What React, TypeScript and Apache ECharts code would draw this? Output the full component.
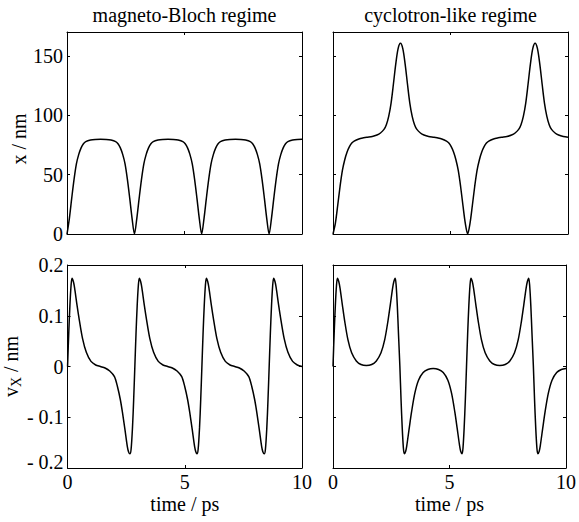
import React, { useEffect, useRef } from 'react';
import * as echarts from 'echarts';

const FONT = 'Liberation Serif, Times New Roman, Times, serif';

const panelTitles = ['magneto-Bloch regime', 'cyclotron-like regime'];
const timeName = 'time / ps';
const posName = 'x / nm';
const velName = '{a|v}{s|X}{a| / nm}';

const timeRange = [0, 10];
const timeStep = 5;
const posRange = [0, 170];
const posStep = 50;
const velRange = [-0.2, 0.2];
const velStep = 0.1;

// magneto-Bloch regime: position x (nm)
const blochPosT = [
  0, 0.1, 0.2, 0.3, 0.4, 0.5, 0.6, 0.7, 0.8, 1.0, 1.2, 1.43, 1.67, 1.87, 2.07, 2.17, 2.27, 2.37, 2.47, 2.57, 2.67, 2.77, 2.87,
  2.97, 3.07, 3.17, 3.27, 3.37, 3.47, 3.57, 3.67, 3.87, 4.07, 4.3, 4.53, 4.73, 4.93, 5.03, 5.13, 5.23, 5.33, 5.43, 5.53, 5.63, 5.73,
  5.83, 5.93, 6.03, 6.13, 6.23, 6.33, 6.43, 6.53, 6.73, 6.93, 7.17, 7.4, 7.6, 7.8, 7.9, 8.0, 8.1, 8.2, 8.3, 8.4, 8.5, 8.6,
  8.7, 8.8, 8.9, 9.0, 9.1, 9.2, 9.3, 9.4, 9.6, 9.8, 10,
];
const blochPos = [
  0, 13, 30, 46, 59, 67, 72.5, 76, 77.8, 79.1, 79.6, 79.7, 79.6, 79.1, 77.8, 76, 72.5, 67, 59, 46, 30, 13, 0,
  13, 30, 46, 59, 67, 72.5, 76, 77.8, 79.1, 79.6, 79.7, 79.6, 79.1, 77.8, 76, 72.5, 67, 59, 46, 30, 13, 0,
  13, 30, 46, 59, 67, 72.5, 76, 77.8, 79.1, 79.6, 79.7, 79.6, 79.1, 77.8, 76, 72.5, 67, 59, 46, 30, 13, 0,
  13, 30, 46, 59, 67, 72.5, 76, 77.8, 79.1, 79.6, 79.7,
];

// cyclotron-like regime: position x (nm)
const cycloPosT = [
  0, 0.1, 0.2, 0.3, 0.4, 0.5, 0.6, 0.7, 0.8, 0.9, 1.1, 1.3, 1.435,
  1.67, 1.87, 2.02, 2.17, 2.27, 2.37, 2.47, 2.57, 2.67, 2.77, 2.87,
  2.97, 3.07, 3.17, 3.27, 3.37, 3.47, 3.57, 3.72, 3.87, 4.07, 4.3,
  4.43, 4.63, 4.83, 4.93, 5.03, 5.13, 5.23, 5.33, 5.43, 5.53, 5.63, 5.73,
  5.83, 5.93, 6.03, 6.13, 6.23, 6.33, 6.43, 6.53, 6.63, 6.83, 7.03, 7.17,
  7.4, 7.6, 7.75, 7.9, 8.0, 8.1, 8.2, 8.3, 8.4, 8.5, 8.6,
  8.7, 8.8, 8.9, 9.0, 9.1, 9.2, 9.3, 9.45, 9.6, 9.8, 10,
];
const cycloPos = [
  0, 9, 24, 40, 53.5, 62.5, 69, 73.5, 76.5, 78.2, 80, 81, 81.5,
  82.1, 83.3, 85, 88, 92, 99, 110, 126, 143, 156, 160.5,
  156, 143, 126, 110, 99, 92, 88, 85, 83.3, 82.1, 81.5,
  81, 80, 78.2, 76.5, 73.5, 69, 62.5, 53.5, 40, 24, 9, 0,
  9, 24, 40, 53.5, 62.5, 69, 73.5, 76.5, 78.2, 80, 81, 81.5,
  82.1, 83.3, 85, 88, 92, 99, 110, 126, 143, 156, 160.5,
  156, 143, 126, 110, 99, 92, 88, 85, 83.3, 82.1, 81.5,
];

// magneto-Bloch regime: velocity v_x
const blochVelT = [
  0, 0.05, 0.1, 0.15, 0.19, 0.25, 0.3, 0.4, 0.5, 0.64, 0.8, 1.0, 1.2, 1.4, 1.6, 1.8, 2.0, 2.13, 2.25, 2.34, 2.45, 2.55, 2.6, 2.66, 2.71, 2.77, 2.82,
  2.87, 2.92, 2.97, 3.02, 3.06, 3.12, 3.17, 3.27, 3.37, 3.51, 3.67, 3.87, 4.07, 4.27, 4.47, 4.67, 4.87, 5.0, 5.12, 5.21, 5.32, 5.42, 5.47, 5.52, 5.57, 5.63, 5.68,
  5.73, 5.78, 5.83, 5.88, 5.92, 5.98, 6.03, 6.13, 6.23, 6.37, 6.53, 6.73, 6.93, 7.13, 7.33, 7.53, 7.73, 7.86, 7.98, 8.07, 8.18, 8.28, 8.33, 8.39, 8.44, 8.5, 8.55,
  8.6, 8.65, 8.7, 8.75, 8.79, 8.85, 8.9, 9.0, 9.1, 9.24, 9.4, 9.6, 9.8, 10,
];
const blochVel = [
  0, 0.065, 0.12, 0.16, 0.174, 0.167, 0.155, 0.122, 0.092, 0.055, 0.028, 0.01, 0.003, 0, -0.003, -0.009, -0.02, -0.04, -0.065, -0.09, -0.125, -0.158, -0.168, -0.172, -0.163, -0.12, -0.065,
  0, 0.065, 0.12, 0.16, 0.174, 0.167, 0.155, 0.122, 0.092, 0.055, 0.028, 0.01, 0.003, 0, -0.003, -0.009, -0.02, -0.04, -0.065, -0.09, -0.125, -0.158, -0.168, -0.172, -0.163, -0.12, -0.065,
  0, 0.065, 0.12, 0.16, 0.174, 0.167, 0.155, 0.122, 0.092, 0.055, 0.028, 0.01, 0.003, 0, -0.003, -0.009, -0.02, -0.04, -0.065, -0.09, -0.125, -0.158, -0.168, -0.172, -0.163, -0.12, -0.065,
  0, 0.065, 0.12, 0.16, 0.174, 0.167, 0.155, 0.122, 0.092, 0.055, 0.028, 0.01, 0.003, 0,
];

// cyclotron-like regime: velocity v_x
const cycloVelT = [
  0, 0.05, 0.1, 0.15, 0.19, 0.25, 0.3, 0.4, 0.5, 0.64, 0.8, 1.0, 1.2, 1.43, 1.66, 1.86, 2.06, 2.22, 2.36, 2.46, 2.56, 2.61, 2.67, 2.71, 2.76, 2.81,
  2.87, 2.92, 2.97, 3.02, 3.06, 3.12, 3.17, 3.27, 3.37, 3.51, 3.67, 3.87, 4.07, 4.3, 4.53, 4.73, 4.93, 5.09, 5.23, 5.33, 5.43, 5.48, 5.54, 5.58, 5.63, 5.68,
  5.73, 5.78, 5.83, 5.88, 5.92, 5.98, 6.03, 6.13, 6.23, 6.37, 6.53, 6.73, 6.93, 7.16, 7.39, 7.59, 7.79, 7.95, 8.09, 8.19, 8.29, 8.34, 8.4, 8.44, 8.49, 8.54,
  8.6, 8.65, 8.7, 8.75, 8.79, 8.85, 8.9, 9.0, 9.1, 9.24, 9.4, 9.6, 9.8, 10,
];
const cycloVel = [
  0, 0.065, 0.12, 0.16, 0.174, 0.167, 0.155, 0.122, 0.09, 0.053, 0.027, 0.011, 0.004, 0.002, 0.004, 0.011, 0.027, 0.053, 0.09, 0.122, 0.155, 0.167, 0.174, 0.16, 0.12, 0.065,
  0, -0.065, -0.12, -0.16, -0.172, -0.167, -0.155, -0.122, -0.09, -0.053, -0.027, -0.012, -0.006, -0.004, -0.006, -0.012, -0.027, -0.053, -0.09, -0.122, -0.155, -0.167, -0.172, -0.16, -0.12, -0.065,
  0, 0.065, 0.12, 0.16, 0.174, 0.167, 0.155, 0.122, 0.09, 0.053, 0.027, 0.011, 0.004, 0.002, 0.004, 0.011, 0.027, 0.053, 0.09, 0.122, 0.155, 0.167, 0.174, 0.16, 0.12, 0.065,
  0, -0.065, -0.12, -0.16, -0.172, -0.167, -0.155, -0.122, -0.09, -0.053, -0.027, -0.012, -0.006, -0.004,
];

const zip = (t: number[], v: number[]) => t.map((x, i) => [x, v[i]]);

const textBase = { fontFamily: FONT, fontSize: 20, color: '#000', fontWeight: 'normal' };

function xAxisDef(gridIndex: number, position: string, showLabels: boolean, name: string) {
  return {
    type: 'value',
    gridIndex,
    position,
    min: timeRange[0],
    max: timeRange[1],
    interval: timeStep,
    axisLine: { show: true, onZero: false, lineStyle: { color: '#000', width: 1 } },
    axisTick: { show: true, inside: true, length: 3, lineStyle: { color: '#000', width: 1 } },
    axisLabel: { show: showLabels, ...textBase, margin: 4 },
    splitLine: { show: false },
    name,
    nameLocation: 'middle',
    nameGap: 26,
    nameTextStyle: { ...textBase },
  };
}

function yAxisDef(gridIndex: number, position: string, kind: 'pos' | 'vel', showLabels: boolean, withName: boolean) {
  const isPos = kind === 'pos';
  const range = isPos ? posRange : velRange;
  return {
    type: 'value',
    gridIndex,
    position,
    min: range[0],
    max: range[1],
    interval: isPos ? posStep : velStep,
    axisLine: { show: true, onZero: false, lineStyle: { color: '#000', width: 1 } },
    axisTick: { show: true, inside: true, length: 3, lineStyle: { color: '#000', width: 1 } },
    axisLabel: {
      show: showLabels,
      ...textBase,
      margin: 4,
      formatter: (v: number) => {
        if (isPos) return v % posStep === 0 ? String(v) : '';
        const r = Math.round(v * 10) / 10;
        if (r <= -0.2) return '{low|- ' + Math.abs(r) + '}';
        if (r < 0) return '- ' + Math.abs(r);
        return String(r);
      },
      rich: { low: { ...textBase, padding: [0, 0, 12, 0] } },
    },
    splitLine: { show: false },
    name: withName ? (isPos ? posName : velName) : '',
    nameLocation: 'middle',
    nameGap: 38,
    nameTextStyle: isPos
      ? { ...textBase, padding: [0, 12, 0, 0] }
      : {
          ...textBase,
          rich: {
            a: { ...textBase },
            s: { ...textBase, fontSize: 14, padding: [10, 0, 0, 0] },
          },
        },
  };
}

export default function App() {
  const ref = useRef<HTMLDivElement>(null);
  useEffect(() => {
    const chart = echarts.init(ref.current!, undefined, { renderer: 'svg' });
    const grids = [
      { left: 67, top: 32, width: 235, height: 202 },
      { left: 333, top: 32, width: 235, height: 202 },
      { left: 67, top: 265, width: 235, height: 203 },
      { left: 333, top: 265, width: 235, height: 203 },
    ];
    const xAxis: any[] = [];
    const yAxis: any[] = [];
    for (let i = 0; i < 4; i++) {
      const bottomRow = i >= 2;
      const leftCol = i % 2 === 0;
      xAxis.push(xAxisDef(i, 'bottom', bottomRow, bottomRow ? timeName : ''));
      xAxis.push(xAxisDef(i, 'top', false, ''));
      yAxis.push(yAxisDef(i, 'left', bottomRow ? 'vel' : 'pos', leftCol, leftCol));
      yAxis.push(yAxisDef(i, 'right', bottomRow ? 'vel' : 'pos', false, false));
    }
    const datasets = [
      zip(blochPosT, blochPos),
      zip(cycloPosT, cycloPos),
      zip(blochVelT, blochVel),
      zip(cycloVelT, cycloVel),
    ];
    const series = datasets.map((data, i) => ({
      type: 'line',
      xAxisIndex: 2 * i,
      yAxisIndex: 2 * i,
      data,
      symbol: 'none',
      showSymbol: false,
      smooth: 0.3,
      lineStyle: { color: '#000', width: 1.5 },
      silent: true,
    }));
    const graphic = panelTitles.map((t, i) => ({
      type: 'text',
      x: grids[i].left + grids[i].width / 2,
      y: 15,
      style: {
        text: t,
        align: 'center',
        verticalAlign: 'middle',
        fontFamily: FONT,
        fontSize: 20,
        fill: '#000',
      },
    }));
    chart.setOption({
      animation: false,
      backgroundColor: '#fff',
      textStyle: { fontFamily: FONT, color: '#000' },
      grid: grids,
      xAxis,
      yAxis,
      series,
      graphic,
    });
    return () => chart.dispose();
  }, []);
  return (
    <div
      ref={ref}
      style={{ position: 'fixed', left: 0, top: 0, width: 579, height: 522, background: '#fff' }}
    />
  );
}
